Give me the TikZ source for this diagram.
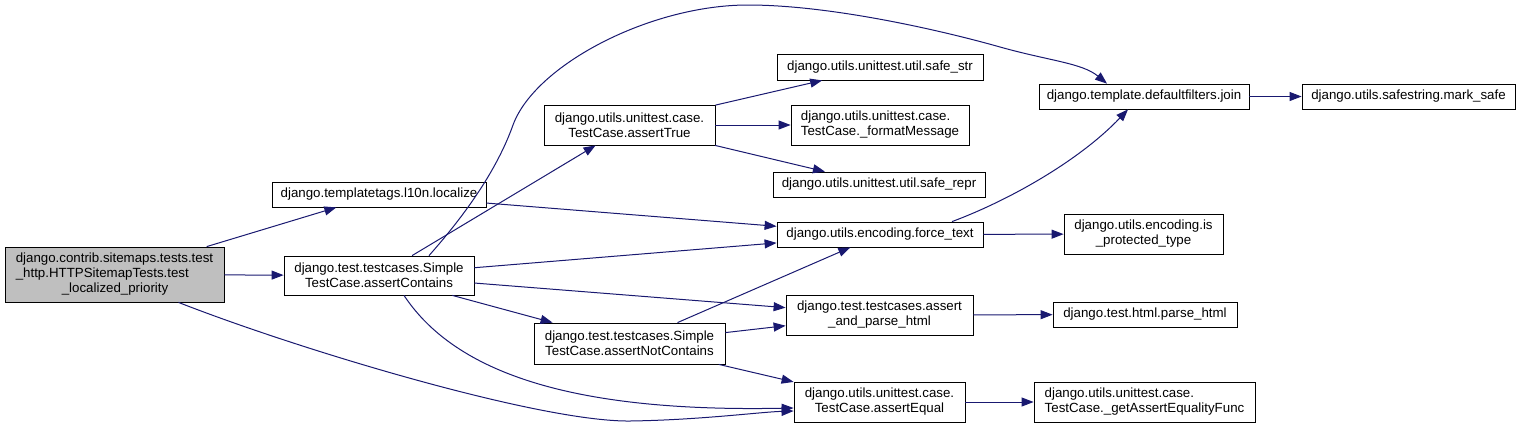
\documentclass[tikz,border=0pt]{standalone}
\usepackage{fontspec}
\setmainfont{Liberation Sans}
\usepackage{tikz}
\usetikzlibrary{arrows.meta}

\definecolor{callblue}{HTML}{191970}
\definecolor{rootgray}{HTML}{BFBFBF}

\begin{document}
\begin{tikzpicture}[
    x=1pt, y=1pt,
    fn/.style={draw=black, fill=white, line width=0.8pt, inner sep=1pt,
      font=\fontsize{13.3}{15}\selectfont, align=center, minimum height=25pt},
    twoline/.style={fn, minimum height=40pt},
    callarrow/.style={draw=callblue, line width=1pt,
      -{Triangle[length=12pt,width=9pt]}}
]
\useasboundingbox (0,0) rectangle (1520,-429);

% caller and first level
\node[fn, fill=rootgray, minimum width=219pt, minimum height=55pt, align=left] (root) at (114.5,-274.5)
  {django.contrib.sitemaps.tests.test\\\_http.HTTPSitemapTests.test\\\hspace*{46pt}\_localized\_priority};
\node[fn, minimum width=214pt] (localize) at (379,-194.5) {django.templatetags.l10n.localize};
\node[twoline, minimum width=190pt, minimum height=39pt] (contains) at (379,-275.5)
  {django.test.testcases.Simple\\TestCase.assertContains};

% middle column
\node[twoline, minimum width=171pt] (asserttrue) at (629.5,-125)
  {django.utils.unittest.case.\\TestCase.assertTrue};
\node[twoline, minimum width=191pt, minimum height=41pt] (notcontains) at (629.5,-343.5)
  {django.test.testcases.Simple\\TestCase.assertNotContains};

% callees
\node[fn, minimum width=206pt, minimum height=26pt] (safestr) at (880,-67) {django.utils.unittest.util.safe\_str};
\node[twoline, minimum width=178pt, align=left] (fmtmsg) at (880,-125)
  {django.utils.unittest.case.\\TestCase.\_formatMessage};
\node[fn, minimum width=212pt] (saferepr) at (879,-184.5) {django.utils.unittest.util.safe\_repr};
\node[fn, minimum width=206pt] (forcetext) at (880,-234.5) {django.utils.encoding.force\_text};
\node[twoline, minimum width=187pt] (andparse) at (879.5,-315)
  {django.test.testcases.assert\\\_and\_parse\_html};
\node[twoline, minimum width=171pt] (assertequal) at (879.5,-402)
  {django.utils.unittest.case.\\TestCase.assertEqual};

% right columns
\node[fn, minimum width=210pt] (join) at (1144,-96.5) {django.template.defaultfilters.join};
\node[fn, minimum width=213pt] (marksafe) at (1408.5,-96.5) {django.utils.safestring.mark\_safe};
\node[twoline, minimum width=159pt] (isprot) at (1143.5,-234)
  {django.utils.encoding.is\\\_protected\_type};
\node[fn, minimum width=184pt] (parsehtml) at (1145,-314.5) {django.test.html.parse\_html};
\node[twoline, minimum width=221pt, align=left] (getfunc) at (1144.5,-402)
  {django.utils.unittest.case.\\TestCase.\_getAssertEqualityFunc};

% straight calls
\draw[callarrow] (root) -- (contains);
\draw[callarrow] (root) -- (localize);
\draw[callarrow] (localize) -- (forcetext);
\draw[callarrow] (contains) -- (asserttrue);
\draw[callarrow] (contains) -- (forcetext);
\draw[callarrow] (contains) -- (andparse);
\draw[callarrow] (contains) -- (notcontains);
\draw[callarrow] (asserttrue) -- (safestr);
\draw[callarrow] (asserttrue) -- (fmtmsg);
\draw[callarrow] (asserttrue) -- (saferepr);
\draw[callarrow] (notcontains) -- (forcetext);
\draw[callarrow] (notcontains) -- (andparse);
\draw[callarrow] (notcontains) -- (assertequal);
\draw[callarrow] (forcetext) -- (isprot);
\draw[callarrow] (join) -- (marksafe);
\draw[callarrow] (andparse) -- (parsehtml);
\draw[callarrow] (assertequal) -- (getfunc);

% curved calls
\draw[callarrow] ([xshift=50pt]contains.north) .. controls (465,-215) and (497,-170) .. (513,-125)
  .. controls (535,-65) and (650,-5) .. (748,-5)
  .. controls (830,-5) and (940,-30) .. (1000,-47)
  .. controls (1050,-61) and (1082,-63) .. ([xshift=-37pt]join.north);
\draw[callarrow] ([xshift=72pt]forcetext.north) .. controls (1010,-200) and (1080,-160) .. ([xshift=-16pt]join.south);
\draw[callarrow] ([xshift=25pt]contains.south) .. controls (460,-380) and (590,-412) .. ([yshift=-6pt]assertequal.west);
\draw[callarrow] ([xshift=64pt]root.south) .. controls (300,-350) and (540,-422) .. (630,-421)
  .. controls (700,-420) and (760,-412) .. ([yshift=-9pt]assertequal.west);

\end{tikzpicture}
\end{document}
